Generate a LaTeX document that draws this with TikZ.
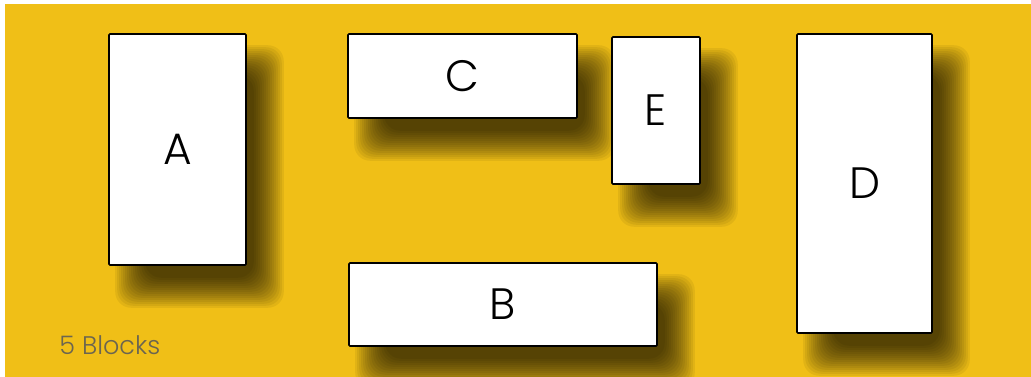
\documentclass[tikz,border=0pt]{standalone}
\usepackage{fontspec}
\setsansfont{Poppins Light}
\usepackage{xcolor}
\usepackage{tikz}
\usetikzlibrary{calc,backgrounds}
\definecolor{blkyellow}{HTML}{F0BF17}
\definecolor{blkgrey}{HTML}{6B6550}

\begin{document}
\begin{tikzpicture}[x=0.02cm,y=-0.02cm,
  blk/.style={draw=black,fill=white,line width=0.9pt,rounded corners=0.6pt,inner sep=0pt,
    font=\sffamily\fontsize{25}{30}\selectfont},
  shade layer/.style={fill=black,fill opacity=0.058,rounded corners=9pt},
  countlbl/.style={font=\sffamily\fontsize{14.5}{17}\selectfont,text=blkgrey,anchor=west,inner sep=0pt}]
\useasboundingbox (0,0) rectangle (1031,377);
\node[blk,minimum width=2.74cm,minimum height=4.62cm] (A) at (177.5,149.5) {A};
\node[blk,minimum width=4.58cm,minimum height=1.68cm] (C) at (462.5,76) {C};
\node[blk,minimum width=1.76cm,minimum height=2.94cm] (E) at (656,110.5) {E};
\node[blk,minimum width=2.70cm,minimum height=5.98cm] (D) at (864.5,183.5) {D};
\node[blk,minimum width=6.16cm,minimum height=1.66cm] (B) at (503,304.5) {B};
\node[countlbl] (count) at (59,345) {5 Blocks};
% soft shadows, built from stacked layers
\begin{scope}[on background layer]
  \fill[white] (0,0) rectangle (1031,377);
  \fill[blkyellow] (5,4) rectangle (1031,377);
  \foreach \b in {A,B,C,D,E}
    \foreach \r in {-15,-13,...,15}
      \fill[shade layer] ($(\b.south west)+(22-\r,27+\r)$) rectangle ($(\b.north east)+(22+\r,27-\r)$);
\end{scope}
\end{tikzpicture}
\end{document}
